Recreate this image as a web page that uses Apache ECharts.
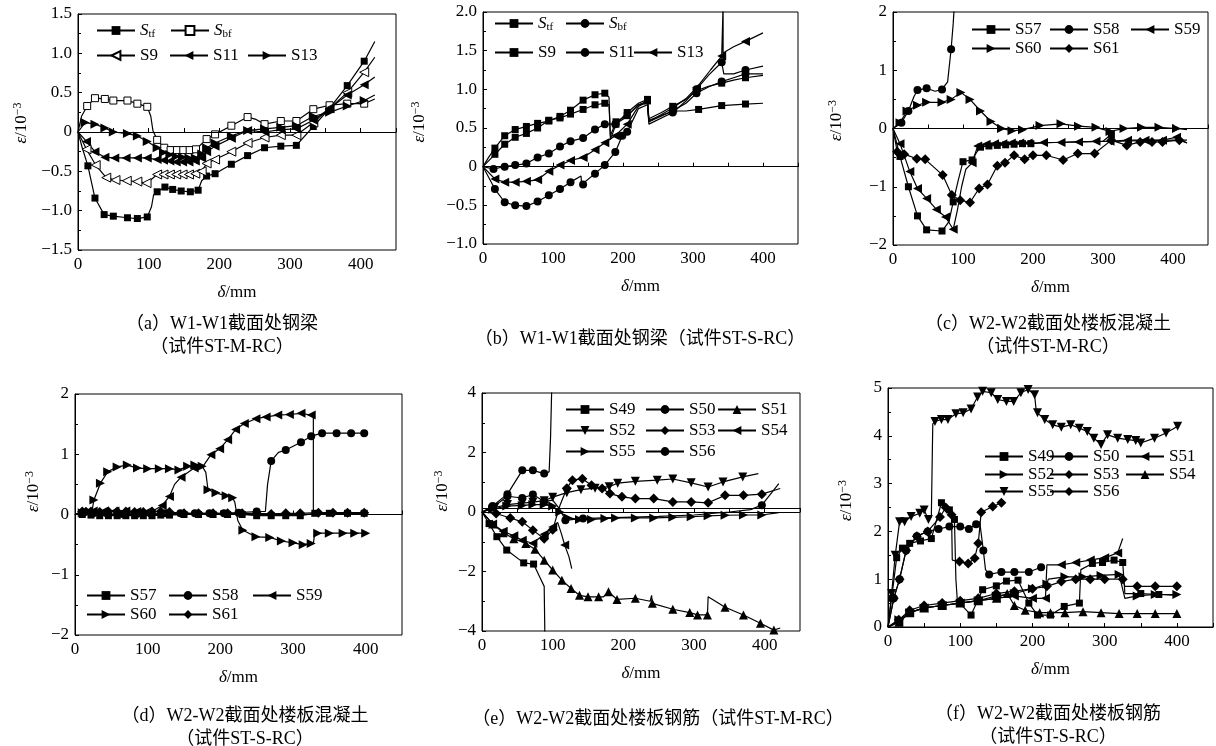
<!DOCTYPE html>
<html>
<head>
<meta charset="utf-8">
<script src="https://cdn.jsdelivr.net/npm/echarts@6/dist/echarts.min.js"></script>
<style>
html, body { margin: 0; padding: 0; background: #fff; }
#main { width: 1216px; height: 746px; }
</style>
</head>
<body>
<div id="main"></div>
<script>
// 数据点 [δ, ε]，第三个值为 0 表示只画线、不画标记
// (a) W1-W1 钢梁 ST-M-RC
const aStf = [[0,0,0],[6,-0.2,0],[14,-0.43],[24,-0.84],[37,-1.05],[50,-1.07],[70,-1.09],[84,-1.1],[98,-1.08],[104,-0.95,0],[107,-0.8,0],[112,-0.76],[123,-0.70],[134,-0.73],[146,-0.75],[159,-0.76],[170,-0.74],[175,-0.62,0],[182,-0.56],[194,-0.53],[217,-0.41],[240,-0.30],[264,-0.20],[287,-0.18],[309,-0.17],[333,0.07],[356,0.30],[381,0.59],[405,0.90],[420,1.15,0]];
const aSbf = [[0,0,0],[5,0.2,0],[13,0.33],[24,0.43],[38,0.42],[50,0.40],[70,0.40],[84,0.36],[98,0.32],[103,0.2,0],[106,0.02,0],[112,-0.10],[122,-0.20],[131,-0.23],[140,-0.23],[149,-0.23],[158,-0.23],[167,-0.22],[182,-0.09],[194,-0.03],[217,0.08],[240,0.19],[252,0.16,0],[264,0.10],[287,0.14],[309,0.14],[333,0.29],[356,0.34],[381,0.36],[405,0.36],[420,0.42,0]];
const aS9 = [[0,0,0],[12,-0.22],[25,-0.42],[40,-0.58],[53,-0.61],[69,-0.62],[84,-0.63],[97,-0.65],[104,-0.6,0],[112,-0.54],[121,-0.54],[130,-0.54],[139,-0.54],[148,-0.54],[157,-0.54],[166,-0.53],[175,-0.5],[182,-0.40],[194,-0.35],[217,-0.25],[240,-0.14],[264,-0.07],[287,-0.04],[309,-0.04],[333,0.12],[356,0.30],[381,0.50],[405,0.76],[420,0.95,0]];
const aS11 = [[0,0,0],[12,-0.12],[24,-0.25],[38,-0.32],[52,-0.33],[68,-0.33],[84,-0.33],[98,-0.33],[112,-0.35],[121,-0.36],[130,-0.37],[139,-0.38],[148,-0.38],[157,-0.38],[166,-0.37],[175,-0.33],[182,-0.25],[194,-0.18],[217,-0.08],[240,0.02],[264,0.0],[287,0.03],[309,0.04],[333,0.15],[356,0.30],[381,0.47],[405,0.6],[420,0.7,0]];
const aS13 = [[0,0,0],[10,0.12],[24,0.10],[38,0.05],[50,0.0],[70,-0.02],[84,-0.05],[98,-0.12],[112,-0.2],[121,-0.26],[130,-0.29],[139,-0.31],[148,-0.32],[157,-0.33],[166,-0.33],[175,-0.28],[182,-0.2],[194,-0.14],[217,-0.05],[240,0.02],[264,0.04],[287,0.06],[309,0.08],[333,0.2],[356,0.25],[381,0.33],[405,0.4],[420,0.47,0]];

// (b) W1-W1 钢梁 ST-S-RC
const bStf = [[0,0,0],[8,0.12,0],[17,0.24],[31,0.40],[46,0.48],[62,0.52],[78,0.56],[94,0.59],[110,0.65],[125,0.73],[143,0.86],[160,0.93],[174,0.95],[180,0.9,0],[182,0.35,0],[190,0.55],[206,0.70],[222,0.82,0],[235,0.87],[237,0.62,0],[255,0.7,0],[271,0.78],[290,0.87,0],[305,0.98],[322,1.04,0],[341,1.08],[358,1.12,0],[375,1.15],[400,1.18,0]];
const bSbf = [[0,0,0],[15,-0.03],[31,0.0],[46,0.02],[62,0.04],[78,0.12],[94,0.17],[110,0.26],[125,0.33],[143,0.37],[160,0.48],[174,0.55],[189,0.55],[206,0.65,0],[222,0.8,0],[235,0.82,0],[237,0.58,0],[271,0.72],[290,0.82,0],[305,0.95],[322,1.03,0],[341,1.1],[358,1.15,0],[375,1.2],[400,1.2,0]];
const bS9 = [[0,0,0],[17,0.16],[31,0.29],[46,0.38],[62,0.43],[78,0.50],[94,0.60],[110,0.63],[125,0.68],[143,0.74],[160,0.80],[174,0.82],[180,0.8,0],[182,0.4,0],[190,0.58],[206,0.66],[222,0.8,0],[235,0.85],[237,0.6,0],[271,0.72],[290,0.72,0],[308,0.74],[341,0.79],[375,0.81],[400,0.82,0]];
const bS11 = [[0,0,0],[17,-0.29],[31,-0.46],[46,-0.5],[62,-0.51],[78,-0.45],[94,-0.37],[110,-0.29],[125,-0.2],[140,-0.12,0],[141,-0.23,0],[143,-0.23],[160,-0.09],[174,0.02],[189,0.19],[199,0.40],[206,0.45],[222,0.75,0],[235,0.8,0],[237,0.55,0],[271,0.7],[290,0.85,0],[305,1.0],[322,1.18,0],[341,1.35],[344,1.2,0],[358,1.2,0],[375,1.25],[400,1.3,0]];
const bS13 = [[0,0,0],[17,-0.16],[31,-0.2],[46,-0.2],[62,-0.19],[78,-0.17],[94,-0.06],[110,0.02],[125,0.08],[143,0.12],[160,0.22],[174,0.31],[189,0.40],[206,0.55],[222,0.78,0],[235,0.84,0],[237,0.58,0],[271,0.76],[290,0.88,0],[305,1.02],[325,1.25,0],[341,1.43],[343,1.45,0],[343,2.1,0],[343,1.47,0],[358,1.55,0],[375,1.62],[400,1.73,0]];

// (c) W2-W2 楼板混凝土 ST-M-RC
const cS57 = [[0,0,0],[10,-0.48],[22,-1.0],[35,-1.5],[48,-1.74],[70,-1.76],[80,-1.6,0],[86,-1.26],[93,-0.9,0],[100,-0.57],[113,-0.54],[120,-0.4,0],[125,-0.32],[137,-0.3],[149,-0.29],[161,-0.28],[173,-0.27],[185,-0.26],[197,-0.26],[230,-0.24,0],[260,-0.23,0],[300,-0.22,0],[312,-0.1],[314,-0.22,0],[350,-0.21,0],[400,-0.2,0],[420,-0.2,0]];
const cS58 = [[0,0,0],[12,0.1],[22,0.3],[30,0.55,0],[35,0.66],[48,0.69],[60,0.64,0],[70,0.67],[78,0.8,0],[83,1.36],[86,1.8,0],[88,2.2,0]];
const cS59 = [[0,0,0],[10,-0.26],[24,-0.74],[35,-1.03],[48,-1.2],[62,-1.39],[75,-1.52],[86,-1.73],[92,-1.4,0],[98,-1.0,0],[104,-0.7,0],[113,-0.59],[121,-0.3],[133,-0.27],[145,-0.26],[157,-0.26],[169,-0.25],[181,-0.25],[193,-0.25],[215,-0.24],[240,-0.24],[265,-0.23],[290,-0.22],[310,-0.22],[335,-0.2],[360,-0.2],[385,-0.2],[405,-0.15],[420,-0.25,0]];
const cS60 = [[0,0,0],[10,0.1],[20,0.3],[35,0.4],[48,0.45],[70,0.45],[83,0.5],[97,0.62],[110,0.5],[125,0.3],[140,0.12],[155,0.0],[170,-0.04],[185,-0.02],[210,0.05],[240,0.08],[265,0.04],[290,0.02],[310,-0.05],[330,0.0],[355,0.02],[380,0.02],[405,0.0],[420,-0.02,0]];
const cS61 = [[0,0,0],[6,-0.4],[16,-0.44],[34,-0.52],[46,-0.53],[71,-0.8],[84,-1.14],[96,-1.23],[110,-1.27],[123,-1.03],[135,-0.96],[149,-0.64],[160,-0.59],[173,-0.46],[188,-0.53],[200,-0.46],[219,-0.46],[243,-0.54],[264,-0.43],[288,-0.43],[312,-0.2],[334,-0.29],[353,-0.23],[370,-0.23],[385,-0.23],[409,-0.2],[420,-0.25,0]];

// (d) W2-W2 楼板混凝土 ST-S-RC
const dS57 = [[0,0,0],[10,0.0],[22,-0.01],[34,-0.02],[46,-0.02],[58,-0.02],[70,-0.02],[82,-0.02],[94,-0.02],[106,-0.02],[118,-0.01],[130,-0.01],[150,0.0],[170,0.0],[190,0.0],[210,0.0],[230,0.0],[250,-0.02],[270,-0.02],[290,-0.02],[310,-0.02],[330,0.02],[350,0.02],[375,0.02],[398,0.02]];
const dS58 = [[0,0,0],[10,0.02],[25,0.02],[45,0.01],[65,0.01],[85,0.01],[105,0.01],[125,0.02],[145,0.02],[165,0.02],[185,0.02],[205,0.02],[225,0.03],[250,0.05],[262,0.05,0],[265,0.5,0],[270,0.89],[280,1.03,0],[290,1.07],[311,1.2],[325,1.3],[340,1.35],[360,1.35],[380,1.35],[398,1.35]];
const dS59 = [[0,0,0],[10,0.05],[25,0.06],[40,0.06],[55,0.06],[70,0.06],[85,0.05],[100,0.05],[110,0.08,0],[120,0.15],[130,0.3],[137,0.5,0],[146,0.62],[164,0.77],[176,0.8,0],[187,0.99],[199,1.09],[210,1.24],[221,1.41],[233,1.51],[249,1.59],[263,1.62],[279,1.65],[295,1.66],[311,1.68],[325,1.65],[328,1.62,0],[328,0,0]];
const dS60 = [[0,0,0],[10,0.03],[20,0.05],[24,0.1,0],[26,0.24],[35,0.52],[45,0.71],[58,0.79],[72,0.82],[86,0.77],[100,0.76],[116,0.76],[130,0.76],[143,0.74],[155,0.8],[165,0.82],[175,0.8],[180,0.7,0],[183,0.41],[194,0.36],[208,0.31],[217,0.28],[220,0.2,0],[224,-0.1,0],[231,-0.26],[249,-0.37],[268,-0.38],[284,-0.44],[300,-0.47],[314,-0.5],[325,-0.48],[328,-0.48,0],[330,-0.31,0],[334,-0.31],[350,-0.31],[369,-0.31],[385,-0.31],[400,-0.31]];
const dS61 = [[0,0,0],[10,0.05],[22,0.05],[34,0.04],[46,0.05],[58,0.05],[70,0.05],[82,0.04],[94,0.04],[106,0.05],[118,0.05],[130,0.04],[150,0.02],[170,0.02],[190,0.02],[210,0.02],[230,0.02],[250,0.02],[270,0.01],[290,0.02],[310,0.02],[335,0.03],[355,0.03],[375,0.03],[398,0.03]];

// (e) W2-W2 楼板钢筋 ST-M-RC
const eS49 = [[0,0,0],[10,-0.39],[21,-0.83],[35,-1.28],[59,-1.71],[73,-1.75],[82,-2.2,0],[88,-2.5,0],[89,-4.2,0]];
const eS50 = [[0,0,0],[15,0.15],[36,0.53],[57,0.47],[72,0.59],[88,0.35],[100,0.4,0],[110,0.1,0],[118,-0.28],[130,-0.25,0],[143,-0.22],[170,-0.2,0],[200,-0.18,0],[250,-0.15,0],[300,-0.1,0],[350,0.0,0],[380,0.08,0],[396,0.23],[420,0.95,0]];
const eS51 = [[0,0,0],[15,-0.4],[30,-0.7],[45,-0.9],[62,-1.06],[75,-1.25],[88,-1.62],[100,-1.95],[113,-2.29],[126,-2.57],[138,-2.8],[150,-2.85],[165,-2.85],[172,-2.85,0],[179,-2.68],[191,-2.94],[217,-2.9],[238,-3.0,0],[240,-2.8,0],[241,-3.07],[270,-3.27],[294,-3.38],[305,-3.46],[319,-3.46],[320,-2.85,0],[344,-3.2],[370,-3.46],[394,-3.74],[413,-3.97],[422,-3.9,0]];
const eS52 = [[0,0,0],[18,0.15],[36,0.25],[57,0.3],[72,0.33],[88,0.38],[100,0.5],[120,0.65],[140,0.75],[160,0.8],[180,0.85],[192,0.97],[217,1.03],[248,1.07],[270,1.11],[296,0.98],[320,0.84],[341,1.01],[369,1.18],[391,1.29,0]];
const eS53 = [[0,0,0],[20,-0.05],[40,-0.2],[57,-0.33],[72,-0.61],[88,-0.9],[100,-0.6],[110,0.2,0],[120,0.8],[128,1.07],[142,1.12],[155,0.9],[170,0.79],[181,0.62],[198,0.51],[217,0.45],[243,0.45],[270,0.34],[296,0.34],[320,0.31],[344,0.56],[370,0.56],[396,0.6],[422,0.79,0]];
const eS54 = [[0,0,0],[15,-0.4],[30,-0.65],[45,-0.8],[57,-0.95],[72,-1.05],[88,-0.75],[100,-0.5],[107,-0.35,0],[112,-0.7,0],[117,-1.11],[123,-1.5,0],[127,-1.9,0]];
const eS55 = [[0,0,0],[15,0.1],[35,0.2],[57,0.22],[72,0.25],[88,0.25],[100,0.2],[110,0.0],[122,-0.2],[138,-0.25],[155,-0.25],[174,-0.22],[189,-0.2],[217,-0.2],[243,-0.2],[270,-0.18],[296,-0.16],[320,-0.13],[344,-0.11],[370,-0.1],[396,-0.1],[420,-0.02,0]];
const eS56 = [[0,0,0],[15,0.2],[36,0.6],[57,1.4],[72,1.4],[88,1.29],[95,1.35,0],[97,2.5,0],[99,4.5,0]];

// (f) W2-W2 楼板钢筋 ST-S-RC
const fS49 = [[0,0,0],[5,0.6],[12,1.45],[20,1.65],[30,1.75],[45,1.8],[60,1.85],[74,2.6],[85,2.45],[92,2.25],[94,1.0,0],[96,0.55,0],[115,0.25],[131,0.78],[150,0.86],[164,0.96],[180,0.98],[195,0.5],[207,0.25],[225,0.25],[244,0.43],[265,0.5],[267,1.2,0],[283,1.33],[297,1.35],[313,1.4],[325,1.35],[328,0.7,0],[350,0.7],[375,0.68],[400,0.66,0]];
const fS50 = [[0,0,0],[8,0.6],[16,1.0],[25,1.6],[40,1.9],[55,2.0],[70,2.05],[85,2.1],[100,2.1],[112,2.05],[122,2.15],[127,2.2,0],[132,1.6],[135,1.2,0],[140,1.1],[157,1.15],[175,1.15],[195,1.15],[212,1.25]];
const fS51 = [[0,0,0],[15,0.1],[30,0.3],[50,0.4],[75,0.45],[100,0.5],[125,0.55],[150,0.6],[175,0.65],[200,0.6],[218,0.6],[220,1.3,0],[240,1.3],[260,1.35],[280,1.4],[300,1.45],[318,1.55],[325,1.85,0]];
const fS52 = [[0,0,0],[15,0.15],[30,0.3],[50,0.4],[75,0.45],[100,0.5],[125,0.55],[150,0.65],[175,0.7],[200,0.8],[220,0.9],[222,1.0,0],[245,1.05],[270,1.05],[295,1.08],[320,1.1],[328,0.6,0],[345,0.65],[370,0.68],[400,0.68]];
const fS53 = [[0,0,0],[15,0.15],[30,0.35],[50,0.45],[75,0.5],[100,0.55],[125,0.6],[150,0.7],[175,0.75],[200,0.8],[220,0.85],[240,0.95],[260,1.0],[280,1.0],[300,1.0],[325,1.0],[328,0.85,0],[345,0.85],[370,0.85],[400,0.85]];
const fS54 = [[0,0,0],[15,0.1],[30,0.3],[50,0.4],[75,0.45],[100,0.5],[125,0.55],[150,0.6],[165,0.7],[175,0.45],[190,0.35],[210,0.3],[225,0.3],[245,0.3],[270,0.32],[295,0.3],[320,0.28],[345,0.28],[370,0.28],[400,0.28]];
const fS55 = [[0,0,0],[5,0.7],[10,1.5],[16,2.2],[23,2.2],[32,2.31],[44,2.38],[50,2.45],[56,2.25],[60,2.3,0],[62,4.25,0],[65,4.3],[74,4.34],[83,4.34],[94,4.46],[104,4.48],[115,4.56],[124,4.81],[131,4.93],[143,4.9],[152,4.76],[164,4.72],[174,4.72],[184,4.9],[194,4.97],[203,4.86],[205,4.55,0],[207,4.48],[217,4.34],[228,4.23],[240,4.18],[253,4.23],[265,4.16],[276,4.09],[285,3.95],[295,3.82],[304,4.02],[318,3.95],[332,3.92],[343,3.9],[350,3.85],[369,3.95],[385,4.06],[401,4.2]];
const fS56 = [[0,0,0],[8,0.6],[16,1.0],[25,1.6],[40,1.9],[55,2.0],[72,2.3],[80,2.5],[88,2.35],[89,1.4,0],[99,1.37],[111,1.33],[120,1.44],[125,1.75],[129,2.4],[145,2.52],[157,2.6]];

// 坐标轴刻度
const xTicks = [0, 100, 200, 300, 400];
const yRanges = {
	a: [-1.5, 1.5, 0.5],
	b: [-1.0, 2.0, 0.5],
	c: [-2, 2, 1],
	d: [-2, 2, 1],
	e: [-4, 4, 2],
	f: [0, 5, 1]
};

// 标记形状
const SQ = 'rect', CI = 'circle', DI = 'diamond';
const UP = 'path://M5,0L10,10L0,10Z';
const DN = 'path://M0,0L10,0L5,10Z';
const LT = 'path://M0,5L10,0L10,10Z';
const RT = 'path://M10,5L0,0L0,10Z';
const symSize = { rect: 7, circle: 8, diamond: 10 };

const serif = '"Liberation Serif", "Times New Roman", "Noto Sans CJK SC"';
const cjk = '"Liberation Serif", "Noto Sans CJK SC"';
const FS = 17;

// 各子图布局
const panels = [
	{ key: 'a', box: [78, 14, 318, 236], dec: 1, yGap: 47, yShift: 18, zero: 0,
		cap: '（a）W1-W1截面处钢梁\n（试件ST-M-RC）', capX: 222, capY: 313,
		series: [['Stf', SQ, false, aStf], ['Sbf', SQ, true, aSbf], ['S9', LT, true, aS9], ['S11', LT, false, aS11], ['S13', RT, false, aS13]],
		legend: [[96, 32], [170, 32], [96, 57], [169, 57], [247, 57]] },
	{ key: 'b', box: [483, 12, 315, 232], dec: 1, yGap: 54, yShift: 12, zero: 0,
		cap: '（b）W1-W1截面处钢梁（试件ST-S-RC）', capX: 640, capY: 328,
		series: [['Stf', SQ, false, bStf], ['Sbf', CI, false, bSbf], ['S9', SQ, false, bS9], ['S11', CI, false, bS11], ['S13', LT, false, bS13]],
		legend: [[494, 25], [565, 25], [494, 54], [565, 54], [633, 54]] },
	{ key: 'c', box: [893, 12, 315, 233], dec: 0, yGap: 47, yShift: 16, zero: 0,
		cap: '（c）W2-W2截面处楼板混凝土\n（试件ST-M-RC）', capX: 1048, capY: 313,
		series: [['S57', SQ, false, cS57], ['S58', CI, false, cS58], ['S59', LT, false, cS59], ['S60', RT, false, cS60], ['S61', DI, false, cS61]],
		legend: [[971, 31], [1049, 31], [1130, 31], [971, 50], [1049, 50]] },
	{ key: 'd', box: [75, 394, 327, 241], dec: 0, yGap: 32, yShift: 46, zero: 0,
		cap: '（d）W2-W2截面处楼板混凝土\n（试件ST-S-RC）', capX: 245, capY: 705,
		series: [['S57', SQ, false, dS57], ['S58', CI, false, dS58], ['S59', LT, false, dS59], ['S60', RT, false, dS60], ['S61', DI, false, dS61]],
		legend: [[86, 597], [168, 597], [252, 597], [86, 616], [168, 616]] },
	{ key: 'e', box: [482, 393, 318, 238], dec: 0, yGap: 30, yShift: 42, zero: 0.14,
		cap: '（e）W2-W2截面处楼板钢筋（试件ST-M-RC）', capX: 658, capY: 708,
		series: [['S49', SQ, false, eS49], ['S50', CI, false, eS50], ['S51', UP, false, eS51], ['S52', DN, false, eS52], ['S53', DI, false, eS53], ['S54', LT, false, eS54], ['S55', RT, false, eS55], ['S56', CI, false, eS56]],
		legend: [[565, 411], [645, 411], [717, 411], [565, 432], [645, 432], [717, 432], [565, 453], [645, 453]] },
	{ key: 'f', box: [888, 388, 327, 239], dec: 0, yGap: 32, yShift: 14, zero: null,
		cap: '（f）W2-W2截面处楼板钢筋\n（试件ST-S-RC）', capX: 1048, capY: 703,
		series: [['S49', SQ, false, fS49], ['S50', CI, false, fS50], ['S51', LT, false, fS51], ['S52', RT, false, fS52], ['S53', DI, false, fS53], ['S54', UP, false, fS54], ['S55', DN, false, fS55], ['S56', DI, false, fS56]],
		legend: [[984, 458], [1049, 458], [1125, 458], [984, 476], [1049, 476], [1125, 476], [984, 493], [1049, 493]] }
];

function pts(arr) {
	return arr.map(p => p[2] === 0 ? { value: [p[0], p[1]], symbol: 'none' } : [p[0], p[1]]);
}

function yLabel(dec) {
	return v => {
		if (Math.abs(v) < 1e-9) return '0';
		const s = Math.abs(v).toFixed(dec);
		return v < 0 ? '−' + s : s;
	};
}

const legendRich = {
	i: { fontStyle: 'italic', fontSize: FS, fontFamily: serif, color: '#000' },
	s: { fontSize: 11, fontFamily: serif, color: '#000', verticalAlign: 'bottom', padding: [7, 0, 0, 0] }
};

function legendName(name) {
	const n = name.split(':')[1];
	if (n === 'Stf') return '{i|S}{s|tf}';
	if (n === 'Sbf') return '{i|S}{s|bf}';
	return n;
}

const grids = [], xAxes = [], yAxes = [], series = [], legends = [], graphics = [];

panels.forEach((p, i) => {
	const [l, t, w, h] = p.box;
	const yr = yRanges[p.key];
	grids.push({ left: l, top: t, width: w, height: h, show: true, borderColor: '#000', borderWidth: 1 });
	xAxes.push({
		gridIndex: i, type: 'value', min: 0, max: 450, interval: 50,
		name: '{i|δ}/mm', nameLocation: 'middle', nameGap: 34,
		nameTextStyle: { fontSize: FS, fontFamily: serif, color: '#000', rich: { i: { fontStyle: 'italic', fontSize: FS, fontFamily: serif } } },
		axisLine: { lineStyle: { color: '#000', width: 1 } },
		axisTick: { inside: true, length: 4, lineStyle: { color: '#000' } },
		axisLabel: { color: '#000', fontSize: FS, fontFamily: serif, margin: 6, formatter: v => xTicks.indexOf(v) >= 0 ? String(v) : '' },
		splitLine: { show: false }
	});
	yAxes.push({
		gridIndex: i, type: 'value', min: yr[0], max: yr[1], interval: yr[2],
		name: '{i|ε}/10{p|−3}', nameLocation: 'middle', nameRotate: 90, nameGap: p.yGap,
		nameTextStyle: { fontSize: FS, fontFamily: serif, color: '#000', padding: [0, 0, 0, p.yShift], rich: {
			i: { fontStyle: 'italic', fontSize: FS, fontFamily: serif },
			p: { fontSize: 12, fontFamily: serif, verticalAlign: 'top', padding: [0, 0, 7, 0] }
		} },
		axisLine: { lineStyle: { color: '#000', width: 1 } },
		axisTick: { inside: true, length: 4, lineStyle: { color: '#000' } },
		minorTick: { show: true, splitNumber: 2, length: 3, lineStyle: { color: '#000' } },
		axisLabel: { color: '#000', fontSize: FS, fontFamily: serif, margin: 6, formatter: yLabel(p.dec) },
		splitLine: { show: false }
	});
	p.series.forEach((s, k) => {
		const [name, sym, open, arr] = s;
		const full = p.key + ':' + name;
		const item = {
			type: 'line', name: full, xAxisIndex: i, yAxisIndex: i,
			data: pts(arr), symbol: sym, symbolSize: symSize[sym] || 9,
			lineStyle: { color: '#000', width: 1.2 },
			itemStyle: { color: open ? '#fff' : '#000', borderColor: '#000', borderWidth: open ? 1 : 0 },
			emphasis: { disabled: true }, animation: false
		};
		if (k === 0 && p.zero !== null) {
			item.markLine = {
				silent: true, symbol: 'none', label: { show: false },
				lineStyle: { color: '#000', width: 1, type: 'solid' },
				data: [{ yAxis: p.zero }]
			};
		}
		series.push(item);
		const pos = p.legend[k];
		legends.push({
			data: [full], left: pos[0], top: pos[1] - 10, padding: 0,
			itemWidth: 38, itemHeight: 11, selectedMode: false,
			formatter: legendName,
			textStyle: { fontSize: FS, fontFamily: serif, color: '#000', rich: legendRich }
		});
	});
	graphics.push({
		type: 'text', x: p.capX, y: p.capY, silent: true,
		style: { text: p.cap, fill: '#000', fontSize: 18, fontFamily: cjk, align: 'center', verticalAlign: 'top', lineHeight: 23 }
	});
});

const chart = echarts.init(document.getElementById('main'));
chart.setOption({
	animation: false,
	backgroundColor: '#fff',
	grid: grids,
	xAxis: xAxes,
	yAxis: yAxes,
	legend: legends,
	series: series,
	graphic: graphics
});
</script>
</body>
</html>
